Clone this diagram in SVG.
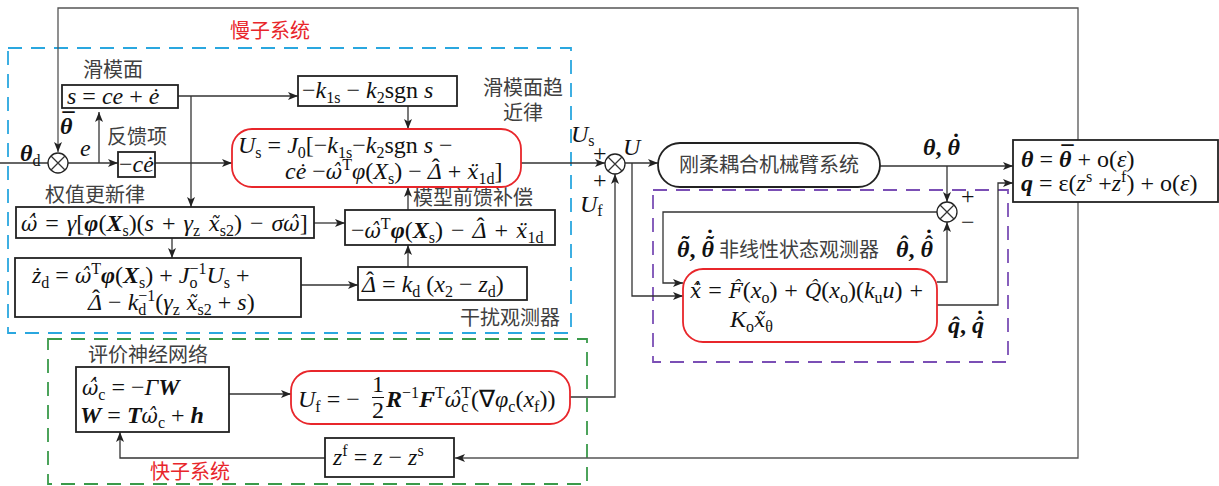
<svg xmlns="http://www.w3.org/2000/svg" width="1219" height="486" viewBox="0 0 1219 486">
<defs>
<marker id="ah" viewBox="0 0 10 8" refX="10" refY="4" markerWidth="10" markerHeight="8" markerUnits="userSpaceOnUse" orient="auto"><path d="M0,0 L10,4 L0,8 L2.5,4 Z" fill="#222"/></marker>
<style>
.cn{font-family:"Noto Sans CJK SC",sans-serif;font-size:20px;fill:#404040}
.red{fill:#e8262b}
.m{font-family:"Liberation Serif",serif;font-size:24px;fill:#111}
.i{font-style:italic}
.b{font-weight:bold}
.a{font-family:"DejaVu Serif",serif;font-style:italic;font-size:20px}
.s{font-size:16px;font-style:normal;font-weight:normal}
.box{fill:#fff;stroke:#222;stroke-width:1.8}
.rbox{fill:#fff;stroke:#e8262b;stroke-width:1.8}
.pill{fill:#fff;stroke:#222;stroke-width:1.8}
.ln{fill:none;stroke:#333;stroke-width:1.3}
.out{fill:none;stroke:#555;stroke-width:1.3}
.ar{marker-end:url(#ah)}
.dash{fill:none;stroke-width:1.8;stroke-dasharray:14 9}
.sum{fill:#fff;stroke:#222;stroke-width:1.3}
</style>
</defs>
<rect width="1219" height="486" fill="#fff"/>

<g id="slow-frame">
<rect class="dash" x="8" y="48" width="563" height="285" stroke="#2aa7df"/>
<text class="cn red" x="230" y="38" font-size="21">慢子系统</text>
</g>
<g id="fast-frame">
<rect class="dash" x="48" y="339" width="539" height="145" stroke="#3a9a4a"/>
<text class="cn red" x="150" y="479" font-size="21">快子系统</text>
</g>
<g id="observer-frame">
<rect class="dash" x="653" y="190" width="355" height="172" stroke="#7b4fb5"/>
</g>

<g id="connectors">
<path class="out ar" d="M1078,140 V8 H58 V152"/>
<path class="out ar" d="M1078,202 V458 H455"/>
<path class="ln" d="M0,163 H49"/>
<path class="ln ar" d="M68,163 H118"/>
<path class="ln ar" d="M99,163 V112"/>
<path class="ln ar" d="M155,163 H232"/>
<path class="ln ar" d="M178,96 H298"/>
<path class="ln ar" d="M191,96 V207"/>
<path class="ln ar" d="M408,106 V129"/>
<path class="ln ar" d="M521,163 H605"/>
<path class="ln ar" d="M625,163 H658"/>
<path class="ln ar" d="M880,166 H1013"/>
<path class="ln ar" d="M947,166 V202"/>
<path class="ln ar" d="M937,212 H663 V283 H683"/>
<path class="ln ar" d="M937,282 H947 V222"/>
<path class="ln ar" d="M937,305 H998 V183 H1013"/>
<path class="ln ar" d="M632,163 V296 H683"/>
<path class="ln ar" d="M314,223 H345"/>
<path class="ln ar" d="M408,210 V187"/>
<path class="ln ar" d="M172,238 V258"/>
<path class="ln ar" d="M301,285 H358"/>
<path class="ln ar" d="M408,267 V245"/>
<path class="ln ar" d="M229,394 H291"/>
<path class="ln ar" d="M570,397 H615 V174"/>
<path class="ln ar" d="M325,458 H120 V432"/>
</g>

<g id="sum1">
<circle class="sum" cx="58" cy="163" r="10"/>
<path class="ln" d="M51,156 L65,170 M65,156 L51,170"/>
</g>
<g id="sum2">
<circle class="sum" cx="615" cy="164" r="10"/>
<path class="ln" d="M608,157 L622,171 M622,157 L608,171"/>
<text class="m" x="593" y="161" font-size="17">+</text>
<text class="m" x="593" y="188" font-size="17">+</text>
</g>
<g id="sum3">
<circle class="sum" cx="947" cy="212" r="10"/>
<path class="ln" d="M940,205 L954,219 M954,205 L940,219"/>
<text class="m" x="961" y="204" font-size="17">+</text>
<text class="m" x="961" y="230" font-size="17">−</text>
</g>

<g id="labels">
<text class="m" x="20" y="161"><tspan class="i b">θ</tspan><tspan class="s" dy="5">d</tspan></text>
<text class="m b" x="60" y="134"><tspan class="i">θ</tspan><tspan dx="-10" dy="-5">¯</tspan></text>
<text class="m i" x="80" y="156">e</text>
<text class="cn" x="107" y="144">反馈项</text>
<text class="cn" x="83" y="77">滑模面</text>
<text class="cn" x="45" y="202">权值更新律</text>
<text class="cn" x="413" y="205">模型前馈补偿</text>
<text class="cn" x="460" y="325">干扰观测器</text>
<text class="cn" x="483" y="95">滑模面趋</text>
<text class="cn" x="503" y="120">近律</text>
<text class="cn" x="88" y="362">评价神经网络</text>
<text class="m" x="571" y="142"><tspan class="i">U</tspan><tspan class="s" dy="4">s</tspan></text>
<text class="m" x="580" y="212"><tspan class="i">U</tspan><tspan class="s" dy="4">f</tspan></text>
<text class="m i" x="623" y="155">U</text>
<text class="m b" x="923" y="155"><tspan class="i">θ</tspan>, <tspan class="i">θ</tspan><tspan dx="-8" dy="-5">˙</tspan></text>
<text class="m b" x="948" y="333"><tspan class="i">q</tspan><tspan dx="-8">ˆ</tspan>, <tspan class="i">q</tspan><tspan dx="-8">ˆ</tspan><tspan dx="-8" dy="-6">˙</tspan></text>
<text class="m b" x="677" y="257"><tspan class="i">θ</tspan><tspan dx="-8" dy="-5">˜</tspan><tspan dy="5">, </tspan><tspan class="i">θ</tspan><tspan dx="-8" dy="-5">˜</tspan><tspan dx="-8" dy="-6">˙</tspan></text>
<text class="cn" x="719" y="257">非线性状态观测器</text>
<text class="m b" x="896" y="257"><tspan class="i">θ</tspan><tspan dx="-8" dy="-5">ˆ</tspan><tspan dy="5">, </tspan><tspan class="i">θ</tspan><tspan dx="-8" dy="-5">ˆ</tspan><tspan dx="-8" dy="-6">˙</tspan></text>
</g>

<g id="sliding-surface">
<rect class="box" x="62" y="85" width="116" height="23"/>
<text class="m" x="67" y="104"><tspan class="i">s</tspan> = <tspan class="i">ce</tspan> + <tspan class="i">ė</tspan></text>
</g>
<g id="reaching-law">
<rect class="box" x="298" y="76" width="159" height="30"/>
<text class="m" x="302" y="98">−<tspan class="i">k</tspan><tspan class="s" dy="5">1s</tspan><tspan dy="-5"> − </tspan><tspan class="i">k</tspan><tspan class="s" dy="5">2</tspan><tspan dy="-5">sgn </tspan><tspan class="i">s</tspan></text>
</g>
<g id="feedback-term">
<rect class="box" x="118" y="152" width="37" height="25"/>
<text class="m" x="119" y="172">−<tspan class="i">cė</tspan></text>
</g>
<g id="slow-control">
<rect class="rbox" x="232" y="129" width="289" height="58" rx="20"/>
<text class="m" x="238" y="153"><tspan class="i">U</tspan><tspan class="s" dy="5">s</tspan><tspan dy="-5"> = </tspan><tspan class="i">J</tspan><tspan class="s" dy="5">0</tspan><tspan dy="-5">[−</tspan><tspan class="i">k</tspan><tspan class="s" dy="5">1s</tspan><tspan dy="-5">−</tspan><tspan class="i">k</tspan><tspan class="s" dy="5">2</tspan><tspan dy="-5">sgn </tspan><tspan class="i">s</tspan> −</text>
<text class="m" x="285" y="179"><tspan class="i">cė</tspan> −<tspan class="a">ω̂</tspan><tspan class="s" dy="-9">T</tspan><tspan class="i" dy="9">φ</tspan>(<tspan class="i">X</tspan><tspan class="s" dy="5">s</tspan><tspan dy="-5">) − </tspan><tspan class="i">Δ</tspan><tspan dx="-10" dy="-4">ˆ</tspan><tspan dx="2" dy="4"> + </tspan><tspan class="a">ẍ</tspan><tspan class="s" dy="5">1d</tspan><tspan dy="-5">]</tspan></text>
</g>
<g id="weight-update">
<rect class="box" x="16" y="207" width="298" height="31"/>
<text class="m" x="21" y="231" word-spacing="2"><tspan class="a">ω̂̇</tspan> = <tspan class="i">γ</tspan>[<tspan class="i b">φ</tspan>(<tspan class="i b">X</tspan><tspan class="s" dy="5">s</tspan><tspan dy="-5">)(</tspan><tspan class="i">s</tspan> + <tspan class="i">γ</tspan><tspan class="s" dy="5">z</tspan><tspan class="a" dy="-5"> x̃</tspan><tspan class="s" dy="5">s2</tspan><tspan dy="-5">) − </tspan><tspan class="i">σ</tspan><tspan class="a">ω̂</tspan>]</text>
</g>
<g id="feedforward">
<rect class="box" x="345" y="210" width="210" height="35"/>
<text class="m" x="351" y="238" word-spacing="2">−<tspan class="a">ω̂</tspan><tspan class="s i" dy="-9">T</tspan><tspan class="i b" dy="9">φ</tspan>(<tspan class="i b">X</tspan><tspan class="s" dy="5">s</tspan><tspan dy="-5">) − </tspan><tspan class="i">Δ</tspan><tspan dx="-10" dy="-4">ˆ</tspan><tspan dx="2" dy="4"> + </tspan><tspan class="a">ẍ</tspan><tspan class="s" dy="5">1d</tspan></text>
</g>
<g id="zd-dynamics">
<rect class="box" x="15" y="258" width="286" height="59"/>
<text class="m" x="32" y="283"><tspan class="i">ż</tspan><tspan class="s" dy="5">d</tspan><tspan dy="-5"> = </tspan><tspan class="a">ω̂</tspan><tspan class="s" dy="-9">T</tspan><tspan class="i b" dy="9">φ</tspan>(<tspan class="i b">X</tspan><tspan class="s" dy="5">s</tspan><tspan dy="-5">) + </tspan><tspan class="i">J</tspan><tspan class="s" dy="5">o</tspan><tspan class="s" dx="-8" dy="-14">−1</tspan><tspan class="i" dy="9">U</tspan><tspan class="s" dy="5">s</tspan><tspan dy="-5"> +</tspan></text>
<text class="m" x="88" y="310"><tspan class="i">Δ</tspan><tspan dx="-10" dy="-4">ˆ</tspan><tspan dx="2" dy="4"> − </tspan><tspan class="i">k</tspan><tspan class="s" dy="5">d</tspan><tspan class="s" dx="-8" dy="-14">−1</tspan><tspan dy="9">(</tspan><tspan class="i">γ</tspan><tspan class="s" dy="5">z</tspan><tspan class="a" dy="-5"> x̃</tspan><tspan class="s" dy="5">s2</tspan><tspan dy="-5"> + </tspan><tspan class="i">s</tspan>)</text>
</g>
<g id="disturbance-observer">
<rect class="box" x="358" y="267" width="169" height="33"/>
<text class="m" x="362" y="292"><tspan class="i">Δ</tspan><tspan dx="-10" dy="-4">ˆ</tspan><tspan dx="2" dy="4"> = </tspan><tspan class="i">k</tspan><tspan class="s" dy="5">d</tspan><tspan dy="-5"> (</tspan><tspan class="i">x</tspan><tspan class="s" dy="5">2</tspan><tspan dy="-5"> − </tspan><tspan class="i">z</tspan><tspan class="s" dy="5">d</tspan><tspan dy="-5">)</tspan></text>
</g>
<g id="manipulator">
<rect class="pill" x="658" y="143" width="222" height="44" rx="22"/>
<text class="cn" x="769" y="172" font-size="21" text-anchor="middle">刚柔耦合机械臂系统</text>
</g>
<g id="output">
<rect class="box" x="1013" y="140" width="205" height="62"/>
<text class="m" x="1021" y="167"><tspan class="i b">θ</tspan> = <tspan class="i b">θ</tspan><tspan class="b" dx="-10" dy="-5">¯</tspan><tspan dx="-2" dy="5"> + o(</tspan><tspan class="i">ε</tspan>)</text>
<text class="m" x="1021" y="191"><tspan class="i b">q</tspan> = ε(<tspan class="i">z</tspan><tspan class="s" dy="-9">s</tspan><tspan dy="9"> +</tspan><tspan class="i">z</tspan><tspan class="s" dy="-9">f</tspan><tspan dy="9">) + o(</tspan><tspan class="i">ε</tspan>)</text>
</g>
<g id="state-observer">
<rect class="rbox" x="683" y="269" width="254" height="73" rx="20"/>
<text class="m" x="690" y="298" word-spacing="1"><tspan class="a">x̂̇</tspan> = <tspan class="a">F̂</tspan>(<tspan class="i">x</tspan><tspan class="s" dy="5">o</tspan><tspan dy="-5">) + </tspan><tspan class="a">Q̂</tspan>(<tspan class="i">x</tspan><tspan class="s" dy="5">o</tspan><tspan dy="-5">)(</tspan><tspan class="i">k</tspan><tspan class="s" dy="5">u</tspan><tspan class="i" dy="-5">u</tspan>) +</text>
<text class="m" x="730" y="327"><tspan class="i">K</tspan><tspan class="s" dy="5">o</tspan><tspan class="a" dy="-5">x̃</tspan><tspan class="s i" dy="5">θ</tspan></text>
</g>
<g id="critic-network">
<rect class="box" x="76" y="367" width="153" height="65"/>
<text class="m" x="82" y="395"><tspan class="a">ω̂̇</tspan><tspan class="s" dy="5">c</tspan><tspan dy="-5"> = −</tspan><tspan class="i">Γ</tspan><tspan class="i b">W</tspan></text>
<text class="m" x="80" y="423"><tspan class="i b">W</tspan> = <tspan class="i b">T</tspan><tspan class="a">ω̂</tspan><tspan class="s" dy="5">c</tspan><tspan dy="-5"> + </tspan><tspan class="i b">h</tspan></text>
</g>
<g id="fast-control">
<rect class="rbox" x="291" y="371" width="279" height="53" rx="20"/>
<text class="m" x="298" y="407"><tspan class="i">U</tspan><tspan class="s" dy="5">f</tspan><tspan dy="-5"> = −</tspan></text>
<text class="m" x="378" y="392" font-size="19" text-anchor="middle">1</text>
<path d="M372,397.5 H384" stroke="#111" stroke-width="1"/>
<text class="m" x="378" y="418" font-size="19" text-anchor="middle">2</text>
<text class="m" x="386" y="407"><tspan class="i b">R</tspan><tspan class="s" dy="-9">−1</tspan><tspan class="i b" dy="9">F</tspan><tspan class="s" dy="-9">T</tspan><tspan class="a" dy="9">ω̂</tspan><tspan class="s" dy="5">c</tspan><tspan class="s" dx="-7" dy="-14">T</tspan><tspan dy="9">(∇</tspan><tspan class="i">φ</tspan><tspan class="s" dy="5">c</tspan><tspan dy="-5">(</tspan><tspan class="i">x</tspan><tspan class="s" dy="5">f</tspan><tspan dy="-5">))</tspan></text>
</g>
<g id="fast-state">
<rect class="box" x="325" y="438" width="129" height="39"/>
<text class="m" x="333" y="465"><tspan class="i">z</tspan><tspan class="s" dy="-9">f</tspan><tspan dy="9"> = </tspan><tspan class="i">z</tspan> − <tspan class="i">z</tspan><tspan class="s" dy="-9">s</tspan></text>
</g>
</svg>
